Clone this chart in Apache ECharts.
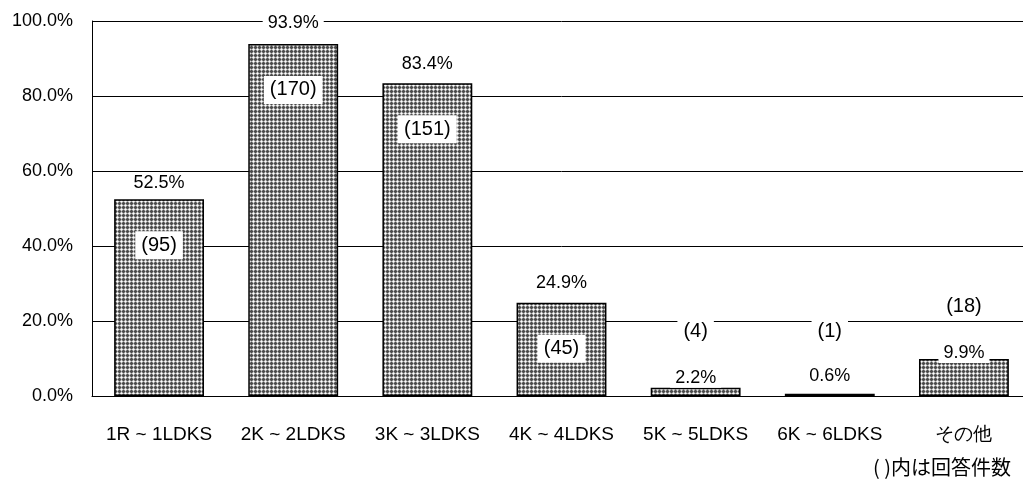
<!DOCTYPE html>
<html>
<head>
<meta charset="utf-8">
<script src="https://cdn.jsdelivr.net/npm/echarts@6/dist/echarts.min.js"></script>
<style>
  html, body { margin: 0; padding: 0; background: #fff; overflow: hidden; }
  #chart { width: 1031px; height: 488px; }
</style>
</head>
<body>
<div id="chart"></div>
<script>
// 間取り別 回答率
var categories = ['1R ~ 1LDKS', '2K ~ 2LDKS', '3K ~ 3LDKS', '4K ~ 4LDKS', '5K ~ 5LDKS', '6K ~ 6LDKS', 'その他'];
var percents = [52.5, 93.9, 83.4, 24.9, 2.2, 0.6, 9.9];
var counts = [95, 170, 151, 45, 4, 1, 18];
var yTicks = [0, 20, 40, 60, 80, 100];

var FONT = '"Liberation Sans", Arial, sans-serif';

// 網掛けパターン
function makePattern() {
  var c = document.createElement('canvas');
  c.width = 4; c.height = 4;
  var ctx = c.getContext('2d');
  function px(x, y, col) { ctx.fillStyle = col; ctx.fillRect(x, y, 1, 1); }
  ctx.fillStyle = '#4a4a4a';
  ctx.fillRect(0, 0, 4, 4);
  px(1, 1, '#ffffff');
  px(0, 1, '#e0e0e0'); px(2, 1, '#e0e0e0'); px(1, 0, '#e0e0e0'); px(1, 2, '#e0e0e0');
  px(0, 0, '#858585'); px(2, 0, '#858585'); px(0, 2, '#858585'); px(2, 2, '#858585');
  px(3, 1, '#a0a0a0'); px(1, 3, '#a0a0a0');
  return c;
}

var pctDist = [6, 11, 9, 10, 0, 8, -4];
var cntInside = [true, true, true, true, false, false, false];
var cntDist = [32, 32, 32, 32, 42, 48, 38];

var myChart = echarts.init(document.getElementById('chart'));

var pctData = percents.map(function (v, i) {
  return { value: v, label: { distance: pctDist[i] } };
});
var cntData = percents.map(function (v, i) {
  return {
    value: v,
    label: {
      position: cntInside[i] ? 'insideTop' : 'top',
      distance: cntDist[i],
      formatter: '(' + counts[i] + ')',
      backgroundColor: i === 6 ? 'transparent' : '#fff'
    }
  };
});

var option = {
  animation: false,
  grid: { left: 92, right: 0, top: 21, bottom: 92, containLabel: false },
  xAxis: {
    type: 'category',
    data: categories,
    axisLine: { lineStyle: { color: '#000', width: 1 } },
    axisTick: { inside: true, length: 6, lineStyle: { color: '#666' } },
    axisLabel: { interval: 0, color: '#000', fontFamily: FONT, fontSize: 19, margin: 29 }
  },
  yAxis: {
    type: 'value',
    min: 0, max: 100, interval: 20,
    axisLine: { show: true, lineStyle: { color: '#000', width: 1 } },
    axisTick: { show: false },
    splitLine: { lineStyle: { color: '#000', width: 1 } },
    axisLabel: {
      color: '#000', fontFamily: FONT, fontSize: 18, margin: 19,
      formatter: function (v) { return yTicks.indexOf(v) >= 0 ? v.toFixed(1) + '%' : ''; }
    }
  },
  series: [
    {
      type: 'bar',
      data: pctData,
      barWidth: '67%',
      itemStyle: {
        color: { image: makePattern(), repeat: 'repeat' },
        borderColor: '#000',
        borderWidth: 1.5
      },
      label: {
        show: true,
        position: 'top',
        color: '#000',
        fontFamily: FONT,
        fontSize: 18,
        backgroundColor: '#fff',
        padding: [1, 5],
        formatter: function (p) { return p.value.toFixed(1) + '%'; }
      },
      z: 2
    },
    {
      type: 'bar',
      data: cntData,
      barWidth: '67%',
      barGap: '-100%',
      itemStyle: { color: 'rgba(0,0,0,0)' },
      label: {
        show: true,
        color: '#000',
        fontFamily: FONT,
        fontSize: 20,
        backgroundColor: '#fff',
        padding: [4, 6]
      },
      z: 3
    }
  ],
  graphic: [
    {
      type: 'text',
      left: 873,
      top: 457,
      style: { text: '( )内は回答件数', fill: '#000', font: '20px "Noto Sans CJK JP", ' + FONT }
    }
  ]
};

myChart.setOption(option);
</script>
</body>
</html>
